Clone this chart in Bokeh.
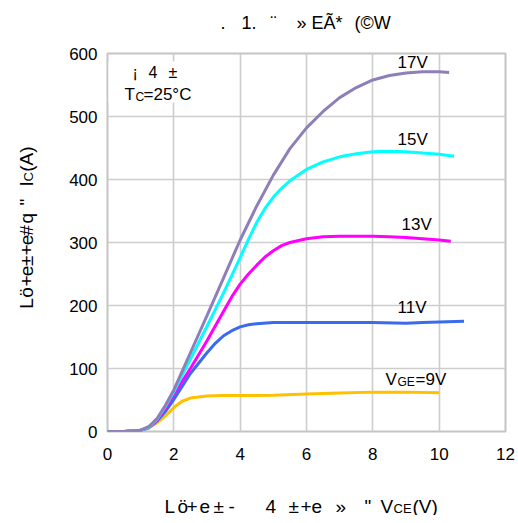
from math import pi
from bokeh.plotting import figure
from bokeh.layouts import column, row
from bokeh.models import Range1d, FixedTicker, Label, BoxAnnotation
from bokeh.embed import file_html
from bokeh.resources import INLINE

# ---- data ----
v17_x = [0, 0.5, 1.0, 1.25, 1.5, 1.75, 2.0, 2.5, 3.0, 3.5, 4.0, 4.5, 5.0, 5.5, 6.0, 6.5, 7.0, 7.5, 8.0, 8.5, 9.0, 9.5, 10.0, 10.3]
v17_y = [0, 0, 2, 8, 21, 42, 66, 125, 184, 244, 304, 358, 407, 449, 482, 508, 530, 546, 558, 565, 569, 571, 571, 570]

v15_x = [0, 0.5, 1.0, 1.25, 1.5, 1.75, 2.0, 2.5, 3.0, 3.5, 4.0, 4.25, 4.5, 4.75, 5.0, 5.25, 5.5, 6.0, 6.5, 7.0, 7.5, 8.0, 8.5, 9.0, 9.5, 10.0, 10.45]
v15_y = [0, 0, 2, 7, 20, 40, 63, 115, 167, 220, 276, 305, 332, 354, 372, 386, 398, 416, 428, 436, 441, 444, 445, 444, 442, 440, 437]

v13_x = [0, 0.5, 1.0, 1.25, 1.5, 1.75, 2.0, 2.5, 3.0, 3.5, 3.75, 4.0, 4.25, 4.5, 4.75, 5.0, 5.25, 5.5, 6.0, 6.5, 7.0, 7.5, 8.0, 8.5, 9.0, 9.5, 10.0, 10.35]
v13_y = [0, 0, 2, 7, 19, 37, 59, 100, 144, 191, 214, 234, 250, 264, 277, 287, 295, 300, 306, 309, 310, 310, 310, 309, 308, 306, 304, 302]

v11_x = [0, 0.5, 1.0, 1.25, 1.5, 1.75, 2.0, 2.5, 3.0, 3.25, 3.5, 3.75, 4.0, 4.25, 4.5, 5.0, 6.0, 7.0, 8.0, 9.0, 9.5, 10.0, 10.75]
v11_y = [0, 0, 2, 6, 17, 32, 51, 92, 125, 140, 152, 160, 166, 169.5, 171, 173, 173, 173, 173, 172, 173, 174, 175]

v9_x = [0, 0.5, 1.0, 1.25, 1.5, 1.75, 2.0, 2.25, 2.5, 3.0, 3.5, 4.0, 5.0, 6.0, 7.0, 8.0, 9.0, 10.0]
v9_y = [0, 0, 2, 6, 14, 25, 38, 48, 53, 56.5, 57, 57, 57.5, 59.5, 61, 62.5, 62.5, 61.5]

x_ticks = [0, 2, 4, 6, 8, 10, 12]
y_ticks = [0, 100, 200, 300, 400, 500, 600]

series = [
    (v9_x, v9_y, "#FFC000"),
    (v11_x, v11_y, "#3A6BEF"),
    (v13_x, v13_y, "#FF00FF"),
    (v15_x, v15_y, "#00FFFF"),
    (v17_x, v17_y, "#8F7FB8"),
]

FONT = "Liberation Sans"
TOTAL_W = 516
TITLE_H = 45
MID_H = 425
BOT_H = 45
YLAB_W = 50
FIX = 6  # label baseline correction (px)

# main plot frame (canvas pixels)
F_L, F_T, FW, FH = 107, 53, 398, 378
X0, X1, Y0, Y1 = 0, 12, 0, 600


def dx(px):
    return (px - F_L) / FW * (X1 - X0) + X0


def dy(py):
    return (F_T + FH - py) / FH * (Y1 - Y0) + Y0


def blank(w, h, x0, y0):
    # a strip whose data units are page pixels (y measured downward, stored negated)
    f = figure(width=w, height=h, output_backend="svg", toolbar_location=None,
               x_range=Range1d(x0, x0 + w), y_range=Range1d(-(y0 + h), -y0),
               x_axis_type=None, y_axis_type=None, min_border=0,
               min_border_left=0, min_border_right=0, min_border_top=0, min_border_bottom=0)
    f.outline_line_color = None
    f.background_fill_color = "white"
    f.border_fill_color = "white"
    return f


def ptext(f, text, px, py, size, angle=0):
    if angle:
        px = px - FIX
    else:
        py = py - FIX
    f.add_layout(Label(x=px, y=-py, text=text, text_font=FONT, text_font_size=f"{size}px",
                       text_color="black", angle=angle, angle_units="rad",
                       text_align="left", text_baseline="alphabetic"))


# ---- title strip ----
t = blank(TOTAL_W, TITLE_H, 0, 0)
for s, px in ((".", 220), ("1.", 241), ("¨", 270), ("» EÃ*", 296), ("(©W", 354)):
    ptext(t, s, px, 28, 18)

# ---- y label strip (rotated) ----
yl = blank(YLAB_W, MID_H, 0, TITLE_H)
for s, py in (("L", 332), ("ö", 319.5), ("+", 307), ("e", 295.5), ("±", 284), ("+", 272),
              ("e", 260.5), ("#", 250), ("q", 236), ("\"", 216), ("I", 194.5), ("(A)", 178)):
    ptext(yl, s, 31.5, py, 19, angle=pi / 2)
ptext(yl, "C", 34, 189, 13, angle=pi / 2)

# ---- main plot ----
p = figure(width=TOTAL_W - YLAB_W, height=MID_H, output_backend="svg", toolbar_location=None,
           x_range=Range1d(X0, X1), y_range=Range1d(Y0, Y1),
           min_border_left=F_L - YLAB_W, min_border_top=F_T - TITLE_H,
           min_border_right=TOTAL_W - F_L - FW,
           min_border_bottom=MID_H - (F_T - TITLE_H) - FH)
p.background_fill_color = "white"
p.border_fill_color = "white"
p.outline_line_color = "#c4c4c4"
p.outline_line_width = 2

for ax, ticks in ((p.xaxis, x_ticks), (p.yaxis, y_ticks)):
    ax.ticker = FixedTicker(ticks=ticks)
    ax.axis_line_color = None
    ax.major_tick_line_color = None
    ax.minor_tick_line_color = None
    ax.major_tick_out = 0
    ax.major_tick_in = 0
    ax.minor_tick_out = 0
    ax.minor_tick_in = 0
    ax.major_label_text_font = FONT
    ax.major_label_text_font_size = "17px"
    ax.major_label_text_color = "black"
p.xaxis.major_label_standoff = 16
p.yaxis.major_label_standoff = 10

p.xgrid.ticker = FixedTicker(ticks=x_ticks)
p.ygrid.ticker = FixedTicker(ticks=y_ticks)
for g in (p.xgrid, p.ygrid):
    g.grid_line_color = "#cdcdcd"
    g.grid_line_width = 1.6

for xs, ys, c in series:
    p.line(xs, ys, line_color=c, line_width=3)


def lab(text, px, py, size=17):
    p.add_layout(Label(x=dx(px), y=dy(py - FIX), text=text, text_font=FONT, text_font_size=f"{size}px",
                       text_color="black", text_align="left", text_baseline="alphabetic"))


# white box behind the condition note
p.add_layout(BoxAnnotation(left=dx(108), right=dx(205), top=dy(61), bottom=dy(102),
                           fill_color="white", fill_alpha=1, line_color=None))

lab("¡", 132, 77.5, 16)
lab("4", 148, 77.5, 16)
lab("±", 168, 77.5, 16)
lab("T", 124, 99.5, 17)
lab("C", 135, 102, 12)
lab("=25°C", 143, 99.5, 17)

lab("17V", 397, 68, 17)
lab("15V", 397, 145, 17)
lab("13V", 401, 230, 17)
lab("11V", 397, 313, 17)
lab("V", 385, 385, 17)
lab("GE", 397, 387.5, 12)
lab("=9V", 415, 385, 17)

# ---- x label strip ----
xl = blank(TOTAL_W, BOT_H, 0, TITLE_H + MID_H)
for s, px in (("L", 164), ("ö", 177), ("+", 186), ("e", 199), ("±", 213), ("-", 228),
              ("4", 265), ("±", 288), ("+", 300), ("e", 311), ("»", 335), ("\"", 364),
              ("V", 380), ("(V)", 412)):
    ptext(xl, s, px, 511.5, 19)
ptext(xl, "CE", 393, 514, 13)

layout = column(t, row(yl, p), xl)
open("out.html", "w").write(file_html(layout, INLINE))
